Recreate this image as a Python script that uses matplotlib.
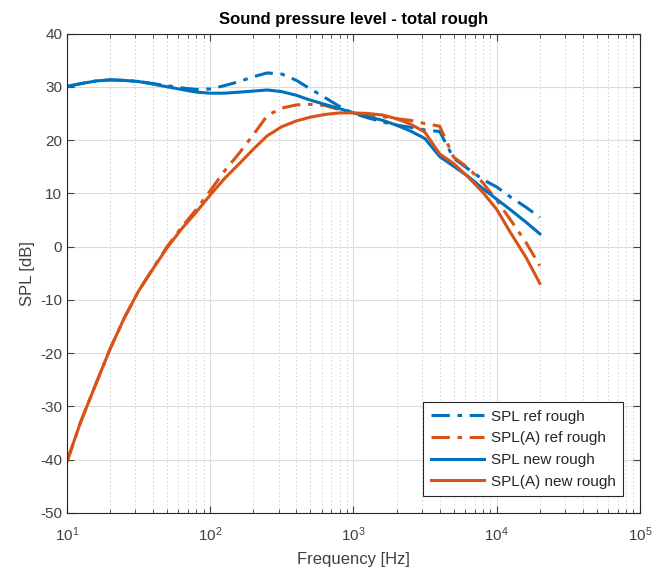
import numpy as np
import matplotlib
matplotlib.use('Agg')
import matplotlib.pyplot as plt
from matplotlib.ticker import LogLocator

plt.rcParams['font.family'] = ['Liberation Sans', 'DejaVu Sans']
plt.rcParams['axes.unicode_minus'] = False
plt.rcParams['mathtext.default'] = 'regular'

# 1/3 octave band centre frequencies
freq = [10, 12.5, 16, 20, 25, 31.5, 40, 50, 63, 80, 100, 125, 160, 200, 250, 315,
        400, 500, 630, 800, 1000, 1250, 1600, 2000, 2500, 3150, 4000, 5000, 6300,
        8000, 10000, 12500, 16000, 20000]

#levels
spl_ref = [30.0, 30.6, 31.1, 31.3, 31.2, 31.0, 30.6, 30.2, 29.8, 29.5, 29.6, 30.2,
           31.0, 31.9, 32.6, 32.4, 31.2, 29.6, 28.0, 26.3, 25.0, 24.2, 23.4, 22.8,
           22.4, 21.9, 21.6, 16.6, 14.6, 12.6, 11.2, 9.3, 7.4, 5.5]
spla_ref = [-40.4, -32.8, -25.6, -19.2, -13.5, -8.4, -4.0, 0.0, 3.6, 7.0, 10.5, 14.1,
            17.6, 21.0, 24.6, 26.0, 26.6, 26.7, 26.5, 25.7, 25.0, 24.8, 24.4, 24.0,
            23.7, 23.1, 22.6, 16.8, 14.8, 12.0, 8.7, 5.0, 0.8, -3.6]
spl_new = [30.1, 30.6, 31.1, 31.3, 31.2, 31.0, 30.5, 30.0, 29.5, 29.0, 28.8, 28.8,
           29.0, 29.2, 29.4, 29.1, 28.4, 27.5, 26.7, 25.9, 25.1, 24.4, 23.7, 22.8,
           21.7, 20.3, 16.9, 15.1, 13.2, 10.9, 8.9, 6.9, 4.6, 2.4]
spla_new = [-40.3, -32.8, -25.6, -19.2, -13.5, -8.4, -4.1, -0.2, 3.3, 6.5, 9.7, 12.7,
            15.6, 18.3, 20.8, 22.5, 23.6, 24.3, 24.8, 25.1, 25.1, 25.0, 24.7, 24.0,
            23.0, 21.5, 17.4, 15.6, 13.1, 10.2, 7.0, 2.6, -2.0, -6.9]

blue = '#0072BD'
orange = '#D95319'
axcol = '#404040'

fig = plt.figure(figsize=(6.57, 5.78), dpi=100)
ax = fig.add_axes([0.102, 0.1125, 0.872, 0.8295])

dd = (0, (6, 2.5, 1.5, 2.5))
ax.semilogx(freq, spl_ref, color=blue, ls=dd, lw=2.2, label='SPL ref rough')
ax.semilogx(freq, spla_ref, color=orange, ls=dd, lw=2.2, label='SPL(A) ref rough')
ax.semilogx(freq, spl_new, '-', color=blue, lw=2.2, label='SPL new rough')
ax.semilogx(freq, spla_new, '-', color=orange, lw=2.2, label='SPL(A) new rough')

ax.set_xlim(10, 1e5)
ax.set_ylim(-50, 40)
ax.set_yticks(np.arange(-50, 41, 10))
ax.xaxis.set_major_locator(LogLocator(base=10, numticks=10))
ax.xaxis.set_minor_locator(LogLocator(base=10, subs=np.arange(2, 10), numticks=20))

ax.grid(True, which='major', color='#dcdcdc', lw=0.8, ls='-')
ax.grid(True, which='minor', axis='x', color='#d0d0d0', lw=0.7, ls=(0, (1.5, 2.5)))
ax.set_axisbelow(True)

ax.tick_params(which='both', direction='in', top=True, right=True, colors=axcol,
               labelsize=11)
ax.tick_params(which='major', length=5, width=0.8)
ax.tick_params(which='minor', length=3, width=0.6)
ax.tick_params(axis='x', which='major', pad=9)
for s in ax.spines.values():
    s.set_color('#262626')
    s.set_linewidth(0.8)

ax.set_xlabel('Frequency [Hz]', fontsize=12, color=axcol, labelpad=6)
ax.set_ylabel('SPL [dB]', fontsize=12, color=axcol)
ax.set_title('Sound pressure level - total rough', fontsize=12, fontweight='bold',
             color='black', pad=7)

leg = ax.legend(loc='lower right', fontsize=11, handlelength=3.5, fancybox=False,
                framealpha=1, edgecolor='#262626', borderaxespad=1.1,
                labelspacing=0.5, handletextpad=0.4, borderpad=0.5)
leg.get_frame().set_linewidth(0.8)
for t in leg.get_texts():
    t.set_color('#262626')

fig.savefig('out.png', dpi=100)
